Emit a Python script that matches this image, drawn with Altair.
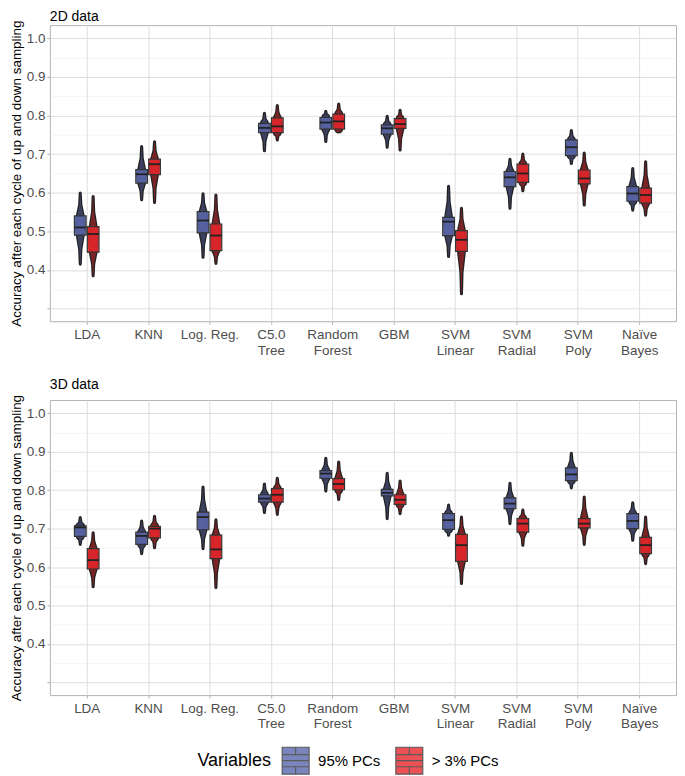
import json
import altair as alt
import pandas as pd

models = ["LDA", "KNN", "Log. Reg.", "C5.0 Tree", "Random Forest", "GBM",
          "SVM Linear", "SVM Radial", "SVM Poly", "Naïve Bayes"]
label_lines = [["LDA"], ["KNN"], ["Log. Reg."], ["C5.0", "Tree"], ["Random", "Forest"],
               ["GBM"], ["SVM", "Linear"], ["SVM", "Radial"], ["SVM", "Poly"], ["Naïve", "Bayes"]]
groups = ["95% PCs", "> 3% PCs"]
colors = ["#5a67ad", "#e8262b"]
panel_titles = ["2D data", "3D data"]

# ---- 2D data ----
d2_pc95_min = [0.415, 0.582, 0.433, 0.709, 0.733, 0.718, 0.435, 0.560, 0.676, 0.555]
d2_pc95_q1  = [0.490, 0.625, 0.496, 0.756, 0.765, 0.752, 0.489, 0.616, 0.696, 0.578]
d2_pc95_med = [0.510, 0.648, 0.528, 0.768, 0.782, 0.767, 0.525, 0.640, 0.718, 0.598]
d2_pc95_q3  = [0.540, 0.660, 0.551, 0.780, 0.795, 0.776, 0.536, 0.655, 0.737, 0.616]
d2_pc95_max = [0.599, 0.720, 0.597, 0.806, 0.811, 0.798, 0.617, 0.687, 0.761, 0.663]

d2_pc3_min = [0.385, 0.575, 0.417, 0.737, 0.763, 0.711, 0.338, 0.605, 0.568, 0.542]
d2_pc3_q1  = [0.446, 0.647, 0.450, 0.756, 0.765, 0.767, 0.448, 0.627, 0.623, 0.573]
d2_pc3_med = [0.493, 0.674, 0.489, 0.772, 0.785, 0.778, 0.478, 0.650, 0.637, 0.594]
d2_pc3_q3  = [0.512, 0.687, 0.519, 0.794, 0.804, 0.792, 0.502, 0.674, 0.659, 0.612]
d2_pc3_max = [0.590, 0.732, 0.594, 0.826, 0.830, 0.814, 0.560, 0.700, 0.703, 0.680]

# ---- 3D data ----
d3_pc95_min = [0.659, 0.635, 0.648, 0.742, 0.798, 0.726, 0.683, 0.713, 0.806, 0.670]
d3_pc95_q1  = [0.680, 0.659, 0.697, 0.769, 0.831, 0.785, 0.698, 0.752, 0.825, 0.700]
d3_pc95_med = [0.703, 0.681, 0.730, 0.778, 0.843, 0.793, 0.722, 0.765, 0.841, 0.720]
d3_pc95_q3  = [0.707, 0.691, 0.743, 0.788, 0.851, 0.802, 0.739, 0.780, 0.858, 0.739]
d3_pc95_max = [0.729, 0.720, 0.808, 0.816, 0.883, 0.844, 0.761, 0.818, 0.896, 0.767]

d3_pc3_min = [0.549, 0.650, 0.547, 0.737, 0.776, 0.739, 0.557, 0.657, 0.659, 0.609]
d3_pc3_q1  = [0.595, 0.676, 0.622, 0.769, 0.801, 0.763, 0.615, 0.691, 0.702, 0.635]
d3_pc3_med = [0.618, 0.700, 0.646, 0.788, 0.816, 0.775, 0.657, 0.713, 0.713, 0.657]
d3_pc3_q3  = [0.648, 0.706, 0.683, 0.804, 0.830, 0.788, 0.685, 0.726, 0.726, 0.677]
d3_pc3_max = [0.689, 0.732, 0.723, 0.831, 0.873, 0.824, 0.730, 0.748, 0.782, 0.730]

# drawing geometry (style, in category units)
WIDTH = 628
DODGE = 0.105
BOX_HW = 0.095
END_W, TAIL_W, Q_W, MED_W = 0.004, 0.013, 0.052, 0.068
OUTLINE = 0.042
PX_PER_UNIT = WIDTH / 10.2


def build(stats_a, stats_b):
    box_rows, vio_rows = [], []
    for g, (stats, off) in enumerate(((stats_a, -DODGE), (stats_b, DODGE))):
        mn, q1, md, q3, mx = stats
        for i in range(len(models)):
            c = i + off
            box_rows.append(dict(group=groups[g], x=c - BOX_HW, x2=c + BOX_HW,
                                 q1=q1[i], q3=q3[i], med=md[i]))
            prof = [(mn[i], END_W), (mn[i] + 0.5 * (q1[i] - mn[i]), TAIL_W),
                    (q1[i], Q_W), (md[i], MED_W), (q3[i], Q_W),
                    (q3[i] + 0.5 * (mx[i] - q3[i]), TAIL_W), (mx[i], END_W)]
            for k, (v, w) in enumerate(prof):
                vio_rows.append(dict(group=groups[g], vid=f"{g}-{i}", y=v, cx=c,
                                     w_in=2 * w, w_out=2 * w + OUTLINE, k=k))
    return pd.DataFrame(box_rows), pd.DataFrame(vio_rows)


color_scale = alt.Scale(domain=groups, range=colors)
x_scale = alt.Scale(domain=[-0.6, 9.6], nice=False, zero=False)
y_scale = alt.Scale(domain=[0.267, 1.0345], nice=False, zero=False)
size_scale = alt.Scale(type="linear", domain=[0, 1], range=[0, PX_PER_UNIT], zero=True)

major_test = "abs(datum.value*10 - round(datum.value*10)) < 0.001"
x_axis = alt.Axis(
    values=list(range(10)),
    labelExpr=json.dumps(label_lines, ensure_ascii=False) + "[datum.value]",
    title=None, grid=True, gridColor="#dedede", gridWidth=1, domain=False,
    ticks=True, tickColor="#b3b3b3", tickSize=3, labelFontSize=13.5,
    labelColor="#4d4d4d", labelPadding=3, labelLineHeight=16,
)
y_axis = alt.Axis(
    values=[round(0.3 + 0.05 * k, 2) for k in range(15)],
    labelExpr="(" + major_test + " && datum.value > 0.35) ? format(datum.value, '.1f') : ''",
    title="Accuracy after each cycle of up and down sampling",
    titleFontSize=13.5, titleFontWeight="normal", titleColor="#000000", titlePadding=3,
    grid=True,
    gridColor={"condition": {"test": major_test, "value": "#dedede"}, "value": "#ececec"},
    gridWidth={"condition": {"test": major_test, "value": 1}, "value": 0.6},
    domain=False, ticks=True, tickSize=3,
    tickColor={"condition": {"test": major_test, "value": "#b3b3b3"}, "value": "transparent"},
    labelFontSize=13.5, labelColor="#4d4d4d", labelPadding=2,
)

legend = alt.Legend(
    title="Variables", orient="none", legendX=148, legendY=723,
    direction="horizontal", titleOrient="left", titleFontSize=18,
    titleFontWeight="normal", titleColor="#000000", titlePadding=10,
    labelFontSize=15, labelColor="#000000", labelOffset=8, columnPadding=12,
    symbolType="M-1,-1H1V1H-1Z M-1,-0.45H1 M-1,0H1 M-1,0.45H1 M0,-1V-0.45 M0,0.45V1",
    symbolSize=729, symbolStrokeColor="#333333", symbolStrokeWidth=1.2, symbolOpacity=0.8,
)


def panel(title, stats_a, stats_b, height, title_y):
    box_df, vio_df = build(stats_a, stats_b)
    vio_out = alt.Chart(vio_df).mark_trail(color="#222222").encode(
        y=alt.Y("y:Q", scale=y_scale, axis=y_axis),
        x=alt.X("cx:Q", scale=x_scale, axis=x_axis),
        size=alt.Size("w_out:Q", scale=size_scale, legend=None),
        detail="vid:N",
        order=alt.Order("k:Q"),
    )
    vio_in = alt.Chart(vio_df).mark_trail(opacity=0.45).encode(
        y=alt.Y("y:Q", scale=y_scale, axis=y_axis),
        x=alt.X("cx:Q", scale=x_scale, axis=x_axis),
        size=alt.Size("w_in:Q", scale=size_scale, legend=None),
        fill=alt.Fill("group:N", scale=color_scale, legend=legend),
        detail="vid:N",
        order=alt.Order("k:Q"),
    )
    box = alt.Chart(box_df).mark_rect(
        stroke="#333333", strokeWidth=1.2, fillOpacity=0.85,
    ).encode(
        x=alt.X("x:Q", scale=x_scale, axis=x_axis),
        x2="x2:Q",
        y=alt.Y("q1:Q", scale=y_scale, axis=y_axis),
        y2="q3:Q",
        fill=alt.Fill("group:N", scale=color_scale, legend=legend),
    )
    med = alt.Chart(box_df).mark_rule(color="#222222", strokeWidth=1.8).encode(
        x=alt.X("x:Q", scale=x_scale, axis=x_axis),
        x2="x2:Q",
        y=alt.Y("med:Q", scale=y_scale, axis=y_axis),
    )
    label = alt.Chart(pd.DataFrame({"t": [title]})).mark_text(
        align="left", baseline="alphabetic", fontSize=14, color="#000000",
    ).encode(text="t:N", x=alt.value(0), y=alt.value(title_y))
    return alt.layer(vio_out, vio_in, box, med, label).properties(
        width=WIDTH, height=height,
    )


top = panel(panel_titles[0],
            (d2_pc95_min, d2_pc95_q1, d2_pc95_med, d2_pc95_q3, d2_pc95_max),
            (d2_pc3_min, d2_pc3_q1, d2_pc3_med, d2_pc3_q3, d2_pc3_max), 297, -4)
bottom = panel(panel_titles[1],
               (d3_pc95_min, d3_pc95_q1, d3_pc95_med, d3_pc95_q3, d3_pc95_max),
               (d3_pc3_min, d3_pc3_q1, d3_pc3_med, d3_pc3_q3, d3_pc3_max), 296, -11)

chart = alt.vconcat(top, bottom, spacing=20).resolve_scale(
    fill="shared", size="shared"
).resolve_legend(fill="shared").properties(
    padding={"left": 0, "top": 0, "right": 0, "bottom": 0}
).configure(
    font="Liberation Sans"
).configure_view(
    stroke="#b3b3b3", strokeWidth=1
)

chart.save("out.html", embed_options={"renderer": "svg", "actions": False})
